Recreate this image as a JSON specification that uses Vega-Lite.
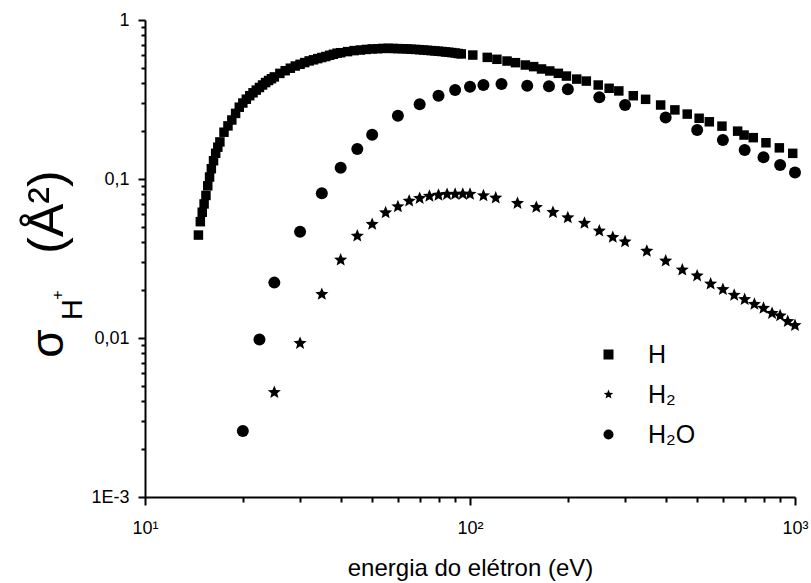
{
  "$schema": "https://vega.github.io/schema/vega-lite/v6.json",
  "width": 650,
  "height": 477,
  "autosize": {"type": "none"},
  "padding": {"left": 145, "top": 20, "right": 16, "bottom": 86},
  "background": "white",
  "datasets": {
    "H": [
      {"serie": "H", "energia": 14.6, "sigma": 0.0444},
      {"serie": "H", "energia": 14.8, "sigma": 0.0539},
      {"serie": "H", "energia": 15.0, "sigma": 0.0618},
      {"serie": "H", "energia": 15.2, "sigma": 0.0697},
      {"serie": "H", "energia": 15.4, "sigma": 0.0788},
      {"serie": "H", "energia": 15.6, "sigma": 0.0906},
      {"serie": "H", "energia": 15.8, "sigma": 0.1029},
      {"serie": "H", "energia": 16.0, "sigma": 0.1161},
      {"serie": "H", "energia": 16.25, "sigma": 0.1303},
      {"serie": "H", "energia": 16.5, "sigma": 0.1451},
      {"serie": "H", "energia": 16.75, "sigma": 0.1585},
      {"serie": "H", "energia": 17.0, "sigma": 0.1711},
      {"serie": "H", "energia": 17.5, "sigma": 0.1969},
      {"serie": "H", "energia": 18.0, "sigma": 0.2158},
      {"serie": "H", "energia": 18.5, "sigma": 0.235},
      {"serie": "H", "energia": 19.0, "sigma": 0.2586},
      {"serie": "H", "energia": 19.5, "sigma": 0.2828},
      {"serie": "H", "energia": 20.0, "sigma": 0.3006},
      {"serie": "H", "energia": 20.5, "sigma": 0.3176},
      {"serie": "H", "energia": 21.0, "sigma": 0.3341},
      {"serie": "H", "energia": 21.5, "sigma": 0.3484},
      {"serie": "H", "energia": 22.0, "sigma": 0.3623},
      {"serie": "H", "energia": 22.5, "sigma": 0.3762},
      {"serie": "H", "energia": 23.0, "sigma": 0.3902},
      {"serie": "H", "energia": 23.5, "sigma": 0.404},
      {"serie": "H", "energia": 24.0, "sigma": 0.4164},
      {"serie": "H", "energia": 24.5, "sigma": 0.4273},
      {"serie": "H", "energia": 25, "sigma": 0.4386},
      {"serie": "H", "energia": 26, "sigma": 0.4616},
      {"serie": "H", "energia": 27, "sigma": 0.4799},
      {"serie": "H", "energia": 28, "sigma": 0.4975},
      {"serie": "H", "energia": 29, "sigma": 0.5136},
      {"serie": "H", "energia": 30, "sigma": 0.5263},
      {"serie": "H", "energia": 31, "sigma": 0.5396},
      {"serie": "H", "energia": 32, "sigma": 0.553},
      {"serie": "H", "energia": 33, "sigma": 0.5619},
      {"serie": "H", "energia": 34, "sigma": 0.5717},
      {"serie": "H", "energia": 35, "sigma": 0.581},
      {"serie": "H", "energia": 36, "sigma": 0.5894},
      {"serie": "H", "energia": 37, "sigma": 0.5998},
      {"serie": "H", "energia": 38, "sigma": 0.6086},
      {"serie": "H", "energia": 39, "sigma": 0.6183},
      {"serie": "H", "energia": 40, "sigma": 0.6227},
      {"serie": "H", "energia": 42, "sigma": 0.6327},
      {"serie": "H", "energia": 44, "sigma": 0.6418},
      {"serie": "H", "energia": 46, "sigma": 0.6474},
      {"serie": "H", "energia": 48, "sigma": 0.6531},
      {"serie": "H", "energia": 50, "sigma": 0.6578},
      {"serie": "H", "energia": 52, "sigma": 0.6598},
      {"serie": "H", "energia": 54, "sigma": 0.6627},
      {"serie": "H", "energia": 56, "sigma": 0.6637},
      {"serie": "H", "energia": 58, "sigma": 0.6623},
      {"serie": "H", "energia": 60, "sigma": 0.6608},
      {"serie": "H", "energia": 62, "sigma": 0.6598},
      {"serie": "H", "energia": 64, "sigma": 0.6578},
      {"serie": "H", "energia": 66, "sigma": 0.6549},
      {"serie": "H", "energia": 68, "sigma": 0.6531},
      {"serie": "H", "energia": 70, "sigma": 0.6506},
      {"serie": "H", "energia": 72, "sigma": 0.6474},
      {"serie": "H", "energia": 74, "sigma": 0.6446},
      {"serie": "H", "energia": 76, "sigma": 0.6418},
      {"serie": "H", "energia": 78, "sigma": 0.639},
      {"serie": "H", "energia": 80, "sigma": 0.6362},
      {"serie": "H", "energia": 82, "sigma": 0.6334},
      {"serie": "H", "energia": 84, "sigma": 0.6298},
      {"serie": "H", "energia": 86, "sigma": 0.627},
      {"serie": "H", "energia": 88, "sigma": 0.6237},
      {"serie": "H", "energia": 90, "sigma": 0.62},
      {"serie": "H", "energia": 92, "sigma": 0.6155},
      {"serie": "H", "energia": 94, "sigma": 0.6119},
      {"serie": "H", "energia": 102, "sigma": 0.602},
      {"serie": "H", "energia": 113, "sigma": 0.582},
      {"serie": "H", "energia": 121, "sigma": 0.566},
      {"serie": "H", "energia": 130, "sigma": 0.552},
      {"serie": "H", "energia": 138, "sigma": 0.539},
      {"serie": "H", "energia": 148, "sigma": 0.521},
      {"serie": "H", "energia": 157, "sigma": 0.509},
      {"serie": "H", "energia": 166, "sigma": 0.492},
      {"serie": "H", "energia": 176, "sigma": 0.478},
      {"serie": "H", "energia": 187, "sigma": 0.462},
      {"serie": "H", "energia": 198, "sigma": 0.444},
      {"serie": "H", "energia": 213, "sigma": 0.425},
      {"serie": "H", "energia": 228, "sigma": 0.413},
      {"serie": "H", "energia": 248, "sigma": 0.39},
      {"serie": "H", "energia": 268, "sigma": 0.372},
      {"serie": "H", "energia": 287, "sigma": 0.358},
      {"serie": "H", "energia": 318, "sigma": 0.334},
      {"serie": "H", "energia": 347, "sigma": 0.317},
      {"serie": "H", "energia": 386, "sigma": 0.292},
      {"serie": "H", "energia": 427, "sigma": 0.272},
      {"serie": "H", "energia": 466, "sigma": 0.256},
      {"serie": "H", "energia": 507, "sigma": 0.241},
      {"serie": "H", "energia": 545, "sigma": 0.229},
      {"serie": "H", "energia": 596, "sigma": 0.215},
      {"serie": "H", "energia": 666, "sigma": 0.2},
      {"serie": "H", "energia": 697, "sigma": 0.189},
      {"serie": "H", "energia": 744, "sigma": 0.182},
      {"serie": "H", "energia": 814, "sigma": 0.169},
      {"serie": "H", "energia": 895, "sigma": 0.157},
      {"serie": "H", "energia": 984, "sigma": 0.145}
    ],
    "H2": [
      {"serie": "H₂", "energia": 25, "sigma": 0.00455},
      {"serie": "H₂", "energia": 30, "sigma": 0.00926},
      {"serie": "H₂", "energia": 35, "sigma": 0.01883},
      {"serie": "H₂", "energia": 40, "sigma": 0.03095},
      {"serie": "H₂", "energia": 45, "sigma": 0.0438},
      {"serie": "H₂", "energia": 50, "sigma": 0.0519},
      {"serie": "H₂", "energia": 55, "sigma": 0.0614},
      {"serie": "H₂", "energia": 60, "sigma": 0.067},
      {"serie": "H₂", "energia": 65, "sigma": 0.0727},
      {"serie": "H₂", "energia": 70, "sigma": 0.0756},
      {"serie": "H₂", "energia": 75, "sigma": 0.078},
      {"serie": "H₂", "energia": 80, "sigma": 0.0792},
      {"serie": "H₂", "energia": 85, "sigma": 0.0801},
      {"serie": "H₂", "energia": 90, "sigma": 0.0802},
      {"serie": "H₂", "energia": 95, "sigma": 0.0804},
      {"serie": "H₂", "energia": 100, "sigma": 0.0803},
      {"serie": "H₂", "energia": 110, "sigma": 0.0786},
      {"serie": "H₂", "energia": 120, "sigma": 0.076},
      {"serie": "H₂", "energia": 140, "sigma": 0.0703},
      {"serie": "H₂", "energia": 160, "sigma": 0.0664},
      {"serie": "H₂", "energia": 180, "sigma": 0.0617},
      {"serie": "H₂", "energia": 200, "sigma": 0.0571},
      {"serie": "H₂", "energia": 225, "sigma": 0.0527},
      {"serie": "H₂", "energia": 250, "sigma": 0.0471},
      {"serie": "H₂", "energia": 275, "sigma": 0.043},
      {"serie": "H₂", "energia": 300, "sigma": 0.0403},
      {"serie": "H₂", "energia": 350, "sigma": 0.0352},
      {"serie": "H₂", "energia": 400, "sigma": 0.0305},
      {"serie": "H₂", "energia": 450, "sigma": 0.0268},
      {"serie": "H₂", "energia": 500, "sigma": 0.0246},
      {"serie": "H₂", "energia": 550, "sigma": 0.0219},
      {"serie": "H₂", "energia": 600, "sigma": 0.0202},
      {"serie": "H₂", "energia": 650, "sigma": 0.0186},
      {"serie": "H₂", "energia": 700, "sigma": 0.0175},
      {"serie": "H₂", "energia": 750, "sigma": 0.0163},
      {"serie": "H₂", "energia": 800, "sigma": 0.0154},
      {"serie": "H₂", "energia": 850, "sigma": 0.0143},
      {"serie": "H₂", "energia": 900, "sigma": 0.0138},
      {"serie": "H₂", "energia": 950, "sigma": 0.0127},
      {"serie": "H₂", "energia": 1000, "sigma": 0.012}
    ],
    "H2O": [
      {"serie": "H₂O", "energia": 20, "sigma": 0.0026},
      {"serie": "H₂O", "energia": 22.5, "sigma": 0.0098},
      {"serie": "H₂O", "energia": 25, "sigma": 0.0223},
      {"serie": "H₂O", "energia": 30, "sigma": 0.0466},
      {"serie": "H₂O", "energia": 35, "sigma": 0.0813},
      {"serie": "H₂O", "energia": 40, "sigma": 0.1178},
      {"serie": "H₂O", "energia": 45, "sigma": 0.1545},
      {"serie": "H₂O", "energia": 50, "sigma": 0.19},
      {"serie": "H₂O", "energia": 60, "sigma": 0.25},
      {"serie": "H₂O", "energia": 70, "sigma": 0.295},
      {"serie": "H₂O", "energia": 80, "sigma": 0.334},
      {"serie": "H₂O", "energia": 90, "sigma": 0.363},
      {"serie": "H₂O", "energia": 100, "sigma": 0.381},
      {"serie": "H₂O", "energia": 110, "sigma": 0.39},
      {"serie": "H₂O", "energia": 125, "sigma": 0.396},
      {"serie": "H₂O", "energia": 150, "sigma": 0.386},
      {"serie": "H₂O", "energia": 175, "sigma": 0.383},
      {"serie": "H₂O", "energia": 200, "sigma": 0.367},
      {"serie": "H₂O", "energia": 250, "sigma": 0.327},
      {"serie": "H₂O", "energia": 300, "sigma": 0.292},
      {"serie": "H₂O", "energia": 400, "sigma": 0.244},
      {"serie": "H₂O", "energia": 500, "sigma": 0.203},
      {"serie": "H₂O", "energia": 600, "sigma": 0.176},
      {"serie": "H₂O", "energia": 700, "sigma": 0.152},
      {"serie": "H₂O", "energia": 800, "sigma": 0.137},
      {"serie": "H₂O", "energia": 900, "sigma": 0.1225},
      {"serie": "H₂O", "energia": 1000, "sigma": 0.11}
    ]
  },
  "layer": [
    {
      "data": {"name": "H"},
      "mark": {"type": "point", "filled": true, "color": "black", "opacity": 1, "size": 90},
      "encoding": {
        "x": {
          "field": "energia", "type": "quantitative",
          "scale": {"type": "log", "domain": [10, 1000], "nice": false},
          "axis": {
            "orient": "bottom",
            "values": [10, 100, 1000],
            "tickSize": 8,
            "labelPadding": 14,
            "labelExpr": "datum.value < 50 ? '10¹' : datum.value < 500 ? '10²' : '10³'",
            "title": "energia do elétron (eV)",
            "titleFontSize": 24,
            "titleX": 325,
            "titleY": 78,
            "titleAlign": "center",
            "titleBaseline": "alphabetic"
          }
        },
        "y": {
          "field": "sigma", "type": "quantitative",
          "scale": {"type": "log", "domain": [0.001, 1], "nice": false},
          "axis": {
            "orient": "left",
            "values": [0.001, 0.01, 0.1, 1],
            "tickSize": 7,
            "labelPadding": 9,
            "labelExpr": "datum.value > 0.5 ? '1' : datum.value > 0.05 ? '0,1' : datum.value > 0.005 ? '0,01' : '1E-3'",
            "title": "σ",
            "titleFontSize": 46,
            "titleAngle": 270,
            "titleX": -83,
            "titleY": 323,
            "titleAlign": "center",
            "titleBaseline": "alphabetic"
          }
        },
        "shape": {
          "field": "serie", "type": "nominal",
          "scale": {
            "domain": ["H", "H₂", "H₂O"],
            "range": ["square", "M0,-1L0.26,-0.36L0.951,-0.309L0.42,0.137L0.588,0.809L0,0.44L-0.588,0.809L-0.42,0.137L-0.951,-0.309L-0.26,-0.36Z", "circle"]
          },
          "legend": {
            "orient": "none",
            "legendX": 451,
            "legendY": 322,
            "title": null,
            "padding": 0,
            "labelFont": "Liberation Sans",
            "labelFontSize": 25,
            "labelColor": "black",
            "labelOffset": 27,
            "rowPadding": 14,
            "symbolSize": 100,
            "symbolFillColor": "black",
            "symbolStrokeColor": "black",
            "symbolStrokeWidth": 0
          }
        }
      }
    },
    {
      "data": {"name": "H2"},
      "mark": {"type": "point", "filled": true, "color": "black", "opacity": 1, "size": 190},
      "encoding": {
        "x": {
          "field": "energia", "type": "quantitative",
          "axis": {
            "orient": "bottom",
            "values": [20, 30, 40, 50, 60, 70, 80, 90, 200, 300, 400, 500, 600, 700, 800, 900],
            "ticks": true,
            "tickSize": 5,
            "labels": false,
            "domain": false,
            "title": null
          }
        },
        "y": {
          "field": "sigma", "type": "quantitative",
          "axis": {
            "orient": "left",
            "values": [0.002, 0.003, 0.004, 0.005, 0.006, 0.007, 0.008, 0.009, 0.02, 0.03, 0.04, 0.05, 0.06, 0.07, 0.08, 0.09, 0.2, 0.3, 0.4, 0.5, 0.6, 0.7, 0.8, 0.9],
            "ticks": true,
            "tickSize": 4,
            "labels": false,
            "domain": false,
            "title": "H",
            "titleFontSize": 29,
            "titleAngle": 270,
            "titleX": -64,
            "titleY": 289,
            "titleAlign": "center",
            "titleBaseline": "alphabetic"
          }
        },
        "shape": {"field": "serie", "type": "nominal"}
      }
    },
    {
      "data": {"name": "H2O"},
      "mark": {"type": "point", "filled": true, "color": "black", "opacity": 1, "size": 144},
      "encoding": {
        "x": {"field": "energia", "type": "quantitative", "axis": null},
        "y": {
          "field": "sigma", "type": "quantitative",
          "axis": {
            "orient": "left",
            "ticks": false,
            "labels": false,
            "domain": false,
            "title": "(Å²)",
            "titleFontSize": 50,
            "titleAngle": 270,
            "titleX": -83,
            "titleY": 191.5,
            "titleAlign": "center",
            "titleBaseline": "alphabetic"
          }
        },
        "shape": {"field": "serie", "type": "nominal"}
      }
    },
    {
      "data": {"name": "H2O"},
      "transform": [{"filter": "false"}],
      "mark": {"type": "point", "filled": true, "color": "black"},
      "encoding": {
        "x": {"field": "energia", "type": "quantitative", "axis": null},
        "y": {
          "field": "sigma", "type": "quantitative",
          "axis": {
            "orient": "left",
            "ticks": false,
            "labels": false,
            "domain": false,
            "title": "+",
            "titleFontSize": 16,
            "titleAngle": 270,
            "titleX": -82.4,
            "titleY": 274.5,
            "titleAlign": "center",
            "titleBaseline": "alphabetic"
          }
        }
      }
    }
  ],
  "resolve": {"axis": {"x": "independent", "y": "independent"}},
  "config": {
    "view": {"stroke": null},
    "axis": {
      "grid": false,
      "domainColor": "black",
      "domainWidth": 2,
      "tickColor": "black",
      "tickWidth": 2,
      "labelFont": "Liberation Sans",
      "labelFontSize": 18,
      "labelColor": "black",
      "labelFlush": false,
      "labelOverlap": false,
      "labelBound": false,
      "titleFont": "Liberation Sans",
      "titleFontWeight": "normal",
      "titleColor": "black",
      "titlePadding": 0
    }
  }
}
